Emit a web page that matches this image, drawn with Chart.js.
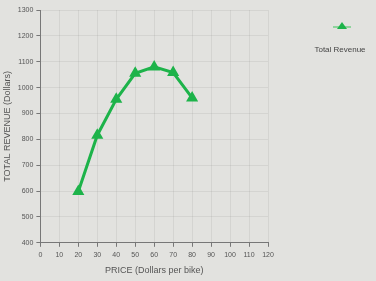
<!DOCTYPE html>
<html>
<head>
<meta charset="utf-8">
<script src="https://cdn.jsdelivr.net/npm/chart.js@4"></script>
<style>
  html, body { margin: 0; padding: 0; background: #e2e2df; }
  #wrap { width: 376px; height: 281px; }
</style>
</head>
<body>
<div id="wrap"><canvas id="chart" width="376" height="281"></canvas></div>
<script>
// Price (dollars per bike) and total revenue (dollars)
const prices = [20, 30, 40, 50, 60, 70, 80];
const revenue = [598, 816, 955, 1055, 1080, 1058, 960];
const seriesName = 'Total Revenue';
const lineColor = '#1db34a';

// Legend drawn to the right of the plot: marker above the label
const sideLegend = {
    id: 'sideLegend',
    afterDraw(chart) {
        const ctx = chart.ctx;
        const cx = 342;
        ctx.save();
        ctx.strokeStyle = '#8fd39c';
        ctx.lineWidth = 2;
        ctx.beginPath();
        ctx.moveTo(cx - 9, 27);
        ctx.lineTo(cx + 9, 27);
        ctx.stroke();
        ctx.fillStyle = lineColor;
        ctx.beginPath();
        ctx.moveTo(cx, 22);
        ctx.lineTo(cx + 5, 29);
        ctx.lineTo(cx - 5, 29);
        ctx.closePath();
        ctx.fill();
        ctx.fillStyle = '#444';
        ctx.font = '8px "Liberation Sans", Arial, sans-serif';
        ctx.textAlign = 'center';
        ctx.textBaseline = 'middle';
        ctx.fillText(seriesName, 340, 50);
        ctx.restore();
    }
};

const tickFont = { family: '"Liberation Sans", Arial, sans-serif', size: 7 };

new Chart(document.getElementById('chart'), {
    type: 'line',
    data: {
        datasets: [{
            label: seriesName,
            data: prices.map((p, i) => ({ x: p, y: revenue[i] })),
            borderColor: lineColor,
            backgroundColor: lineColor,
            borderWidth: 3,
            pointStyle: 'triangle',
            pointRadius: 4,
            pointHoverRadius: 4,
            tension: 0
        }]
    },
    options: {
        responsive: false,
        animation: false,
        layout: { padding: { top: 10, right: 108, bottom: 5, left: 2 } },
        plugins: {
            legend: { display: false },
            tooltip: { enabled: false }
        },
        scales: {
            x: {
                type: 'linear',
                min: 0,
                max: 120,
                ticks: {
                    stepSize: 10,
                    maxRotation: 0,
                    autoSkip: false,
                    color: '#555',
                    font: tickFont,
                    padding: 4,
                    callback: v => String(v)
                },
                grid: {
                    color: 'rgba(0,0,0,0.06)',
                    tickColor: '#777',
                    tickLength: 4
                },
                border: { color: '#777', width: 1 },
                title: {
                    display: true,
                    text: 'PRICE (Dollars per bike)',
                    color: '#555',
                    font: { family: '"Liberation Sans", Arial, sans-serif', size: 9 },
                    padding: { top: 2, bottom: 0 }
                }
            },
            y: {
                min: 400,
                max: 1300,
                ticks: {
                    stepSize: 100,
                    color: '#555',
                    font: tickFont,
                    padding: 3,
                    callback: v => String(v)
                },
                grid: {
                    color: 'rgba(0,0,0,0.06)',
                    tickColor: '#777',
                    tickLength: 4
                },
                border: { color: '#777', width: 1 },
                title: {
                    display: true,
                    text: 'TOTAL REVENUE (Dollars)',
                    color: '#555',
                    font: { family: '"Liberation Sans", Arial, sans-serif', size: 9 },
                    padding: { top: 0, bottom: 2 }
                }
            }
        }
    },
    plugins: [sideLegend]
});
</script>
</body>
</html>
